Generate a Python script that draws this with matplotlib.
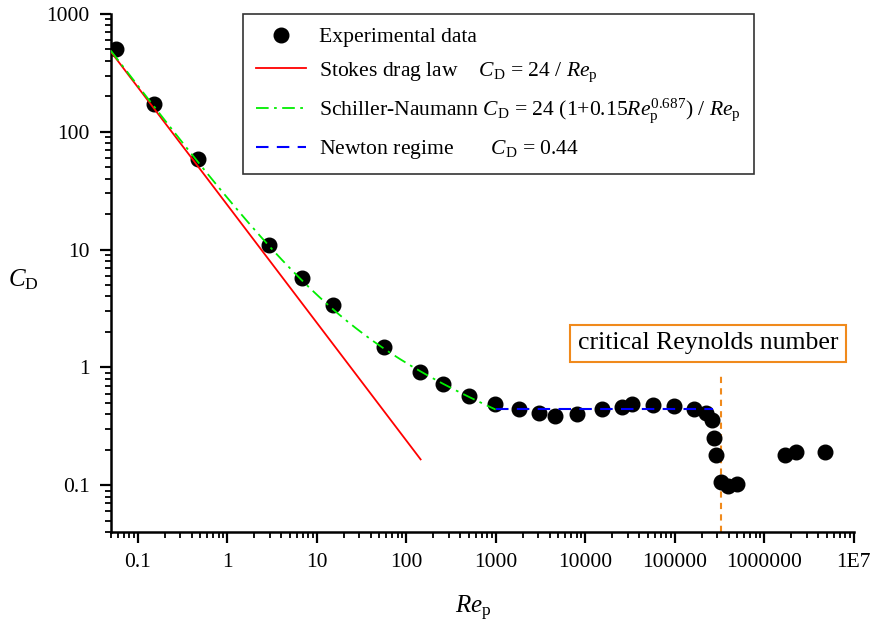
import numpy as np
import matplotlib.pyplot as plt
from matplotlib.ticker import LogLocator, FixedLocator, FixedFormatter, NullFormatter

plt.rcParams['font.family'] = 'Liberation Serif'
plt.rcParams['mathtext.fontset'] = 'custom'
plt.rcParams['mathtext.rm'] = 'Liberation Serif'
plt.rcParams['mathtext.it'] = 'Liberation Serif:italic'

re_exp = [0.057, 0.153, 0.474, 2.94, 6.9, 15.3, 56.8, 143, 258, 503,
          987, 1820, 3070, 4600, 8100, 15400, 25900, 33300, 57000, 98500,
          166000, 225000, 261000, 277000, 290000, 328000, 390000, 500000,
          1.70e6, 2.24e6, 4.84e6]
cd_exp = [500, 172, 59, 11, 5.7, 3.4, 1.48, 0.92, 0.72, 0.57,
          0.486, 0.44, 0.41, 0.386, 0.40, 0.446, 0.46, 0.485, 0.48, 0.467,
          0.446, 0.41, 0.357, 0.253, 0.18, 0.107, 0.099, 0.102,
          0.18, 0.19, 0.19]

# ranges of the model curves
stokes_range = (0.05, 145)
schiller_range = (0.05, 1000)
newton_range = (1000, 2.7e5)
newton_cd = 0.44
re_critical = 3.3e5

x_ticks = [0.1, 1, 10, 100, 1000, 10000, 100000, 1000000, 1e7]
x_ticklabels = ['0.1', '1', '10', '100', '1000', '10000', '100000', '1000000', '1E7']
y_ticks = [0.1, 1, 10, 100, 1000]
y_ticklabels = ['0.1', '1', '10', '100', '1000']

fig = plt.figure(figsize=(8.72, 6.23), dpi=100)
ax = fig.add_axes([0.127, 0.146, 0.852, 0.8315])

re_s = np.logspace(np.log10(stokes_range[0]), np.log10(stokes_range[1]), 200)
re_sn = np.logspace(np.log10(schiller_range[0]), np.log10(schiller_range[1]), 300)
re_n = np.array(newton_range)

ax.plot(re_exp, cd_exp, 'o', color='black', ms=10.5, zorder=2,
        label='Experimental data')
ax.plot(re_s, 24 / re_s, '-', color='#ff0000', lw=1.3, zorder=3,
        label=r'Stokes drag law    $C_{\mathrm{D}}$ = 24 / $Re_{\mathrm{p}}$')
ax.plot(re_sn, 24 * (1 + 0.15 * re_sn ** 0.687) / re_sn, color='#00ee00', lw=1.3,
        dashes=(7, 3, 1.5, 3), zorder=3,
        label=r'Schiller-Naumann $C_{\mathrm{D}}$ = 24 (1+0.15$Re_{\mathrm{p}}^{0.687}$) / $Re_{\mathrm{p}}$')
ax.plot(re_n, [newton_cd, newton_cd], color='#0000ff', lw=1.5, dashes=(6, 4), zorder=3,
        label=r'Newton regime       $C_{\mathrm{D}}$ = 0.44')

ax.plot([re_critical, re_critical], [0.04, 0.9], color='#f08a1c', lw=1.5,
        dashes=(3, 2.5), zorder=1)
ax.text(0.804, 0.364, 'critical Reynolds number', transform=ax.transAxes,
        fontsize=18.5, ha='center', va='center',
        bbox=dict(boxstyle='square,pad=0.3', fc='white', ec='#f08a1c', lw=1.5))

ax.set_xscale('log')
ax.set_yscale('log')
ax.set_xlim(0.05, 1e7)
ax.set_ylim(0.04, 1000)

ax.xaxis.set_major_locator(FixedLocator(x_ticks))
ax.xaxis.set_major_formatter(FixedFormatter(x_ticklabels))
ax.yaxis.set_major_locator(FixedLocator(y_ticks))
ax.yaxis.set_major_formatter(FixedFormatter(y_ticklabels))
ax.xaxis.set_minor_locator(LogLocator(base=10, subs=np.arange(2, 10), numticks=20))
ax.yaxis.set_minor_locator(LogLocator(base=10, subs=np.arange(2, 10), numticks=20))
ax.xaxis.set_minor_formatter(NullFormatter())
ax.yaxis.set_minor_formatter(NullFormatter())

ax.spines['top'].set_visible(False)
ax.spines['right'].set_visible(False)
ax.spines['left'].set_linewidth(1.8)
ax.spines['bottom'].set_linewidth(1.8)
ax.tick_params(which='major', direction='out', length=8, width=1.6, labelsize=15.5, pad=7)
ax.tick_params(which='minor', direction='out', length=4.5, width=1.3)

ax.set_xlabel(r'$Re_{\mathrm{p}}$', fontsize=18)
ax.xaxis.set_label_coords(0.488, -0.12)
ax.set_ylabel(r'$C_{\mathrm{D}}$', fontsize=18, rotation=0)
ax.yaxis.set_label_coords(-0.118, 0.463)

leg = ax.legend(loc='upper left', bbox_to_anchor=(0.178, 1.0), fontsize=15.6,
                frameon=True, fancybox=False, edgecolor='black', handlelength=2.3,
                labelspacing=0.6, borderpad=0.6, handletextpad=0.6,
                borderaxespad=0)
leg.get_frame().set_linewidth(1.2)

fig.savefig('out.png', dpi=100)
